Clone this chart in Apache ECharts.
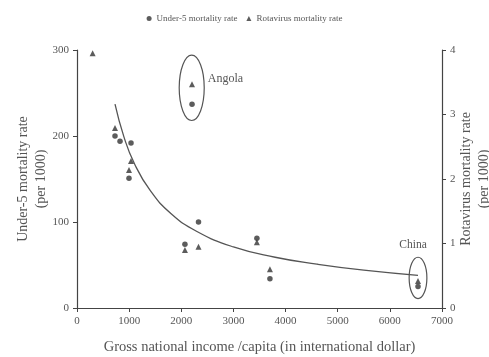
<!DOCTYPE html>
<html><head><meta charset="utf-8">
<script src="https://cdn.jsdelivr.net/npm/echarts@6/dist/echarts.min.js"></script>
<style>html,body{margin:0;padding:0;background:#fff}#c{width:489px;height:357px}</style>
</head><body><div id="c"></div>
<script>
// Under-5 mortality (left axis, per 1000)
var u5Income = [729, 825, 1036, 997, 2206, 2070, 2330, 3450, 3700, 6540];
var u5Rate   = [200, 194, 192, 151, 237, 74, 100, 81, 34, 25];
// Rotavirus mortality (right axis, per 1000)
var rvIncome = [300, 729, 1036, 997, 2206, 2070, 2330, 3450, 3700, 6540];
var rvRate   = [3.95, 2.79, 2.28, 2.14, 3.47, 0.90, 0.95, 1.02, 0.60, 0.42];
// Trend curve (left axis)
var curveIncome = [729, 900, 1100, 1400, 1800, 2300, 3000, 3800, 4600, 5500, 6540];
var curveRate   = [237, 199, 168, 137, 110, 89, 71, 59, 51, 44, 38];
// Axis ticks
var xTicks = [0, 1000, 2000, 3000, 4000, 5000, 6000, 7000];
var leftTicks = [0, 100, 200, 300];
var rightTicks = [0, 1, 2, 3, 4];
// Annotations: [label, centerX, centerY(left axis), halfWidthX, halfHeightY]
var angola = ['Angola', 2200, 256, 240, 38];
var china = ['China', 6540, 35, 170, 24];

var FONT = 'Liberation Serif';
var TXT = '#555';
var LINE = '#444';
function zip(a, b) { return a.map(function (v, i) { return [v, b[i]]; }); }

var chart = echarts.init(document.getElementById('c'));
var axisCommon = {
  axisLine: { show: true, lineStyle: { color: LINE, width: 1.2 } },
  axisTick: { show: true, inside: false, length: 4, lineStyle: { color: LINE } },
  axisLabel: { color: TXT, fontFamily: FONT, fontSize: 11 },
  splitLine: { show: false },
  nameMoveOverlap: false,
  nameTextStyle: { color: TXT, fontFamily: FONT, fontSize: 14, lineHeight: 18 }
};
chart.setOption({
  animation: false,
  backgroundColor: '#fff',
  grid: { left: 77, right: 47, top: 50, bottom: 49, containLabel: false, outerBoundsMode: 'none' },
  legend: {
    top: 9, left: 'center', itemWidth: 5, itemHeight: 5, itemGap: 9,
    textStyle: { color: TXT, fontFamily: FONT, fontSize: 9 },
    data: [{ name: 'Under-5 mortality rate', icon: 'circle' }, { name: 'Rotavirus mortality rate', icon: 'triangle' }]
  },
  xAxis: Object.assign({}, axisCommon, {
    type: 'value', min: xTicks[0], max: xTicks[xTicks.length - 1], interval: 1000,
    axisLabel: { color: TXT, fontFamily: FONT, fontSize: 11, formatter: function (v) { return String(v); } },
    name: 'Gross national income /capita (in international dollar)',
    nameLocation: 'middle', nameGap: 32,
    nameTextStyle: { color: TXT, fontFamily: FONT, fontSize: 14.5 }
  }),
  yAxis: [
    Object.assign({}, axisCommon, {
      type: 'value', min: leftTicks[0], max: leftTicks[leftTicks.length - 1], interval: 100,
      name: 'Under-5 mortality rate\n(per 1000)', nameLocation: 'middle', nameGap: 27, nameRotate: 90
    }),
    Object.assign({}, axisCommon, {
      type: 'value', position: 'right', min: rightTicks[0], max: rightTicks[rightTicks.length - 1], interval: 1,
      name: 'Rotavirus mortality rate\n(per 1000)', nameLocation: 'middle', nameGap: 15, nameRotate: 90
    })
  ],
  series: [
    { name: 'Under-5 mortality rate', type: 'scatter', yAxisIndex: 0, symbol: 'circle', symbolSize: 5.5,
      itemStyle: { color: '#333' }, data: zip(u5Income, u5Rate), z: 3 },
    { name: 'Rotavirus mortality rate', type: 'scatter', yAxisIndex: 1, symbol: 'triangle', symbolSize: 6,
      itemStyle: { color: '#333' }, data: zip(rvIncome, rvRate), z: 3 },
    { name: 'trend', type: 'line', yAxisIndex: 0, smooth: true, showSymbol: false, symbol: 'none',
      lineStyle: { color: '#555', width: 1.3 }, data: zip(curveIncome, curveRate), silent: true, z: 2 }
  ]
});

function ann(a, textDx, textDy, align, size) {
  var c = chart.convertToPixel({ xAxisIndex: 0, yAxisIndex: 0 }, [a[1], a[2]]);
  var e = chart.convertToPixel({ xAxisIndex: 0, yAxisIndex: 0 }, [a[1] + a[3], a[2] + a[4]]);
  var rx = e[0] - c[0], ry = c[1] - e[1];
  return [
    { type: 'ellipse', shape: { cx: c[0], cy: c[1], rx: rx, ry: ry },
      style: { fill: 'none', stroke: '#555', lineWidth: 1.2 }, z: 10 },
    { type: 'text', x: c[0] + textDx, y: c[1] + textDy,
      style: { text: a[0], fill: TXT, font: size + 'px ' + FONT, textAlign: align, textVerticalAlign: 'middle' }, z: 10 }
  ];
}
chart.setOption({ graphic: ann(angola, 16, -9, 'left', 12).concat(ann(china, -5, -33, 'center', 11.5)) });
</script></body></html>
